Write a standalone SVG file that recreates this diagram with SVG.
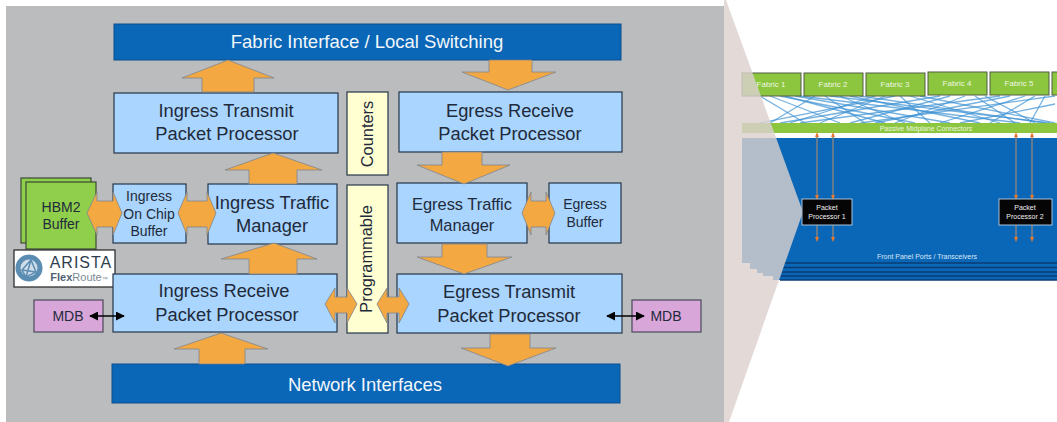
<svg xmlns="http://www.w3.org/2000/svg" width="1057" height="422" viewBox="0 0 1057 422">
<defs>
<style>
text{font-family:"Liberation Sans",Arial,sans-serif;fill:#1f2a3a;text-anchor:middle}
.bar{fill:#0a66b6;stroke:#0a4f8f;stroke-width:1}
.bar-t{fill:#f2f7fb;font-size:18.500px}
.box{fill:#a9d5ff;stroke:#26364a;stroke-width:1.2}
.prog{fill:#ffffd2;stroke:#26364a;stroke-width:1.2}
.mem{fill:#8fcf4c;stroke:#3c4a34;stroke-width:1.2}
.mdb{fill:#d8a6d8;stroke:#4a4a5a;stroke-width:1.2}
.t18{font-size:18.300px}.t16{font-size:16.400px}.t14{font-size:14px}
.ba{fill:#f4a842;stroke:#7d8790;stroke-width:.8}
.fab{fill:#8cc63f;stroke:#4f5a45;stroke-width:1}
.ft{fill:#eef6e0;font-size:8px}
.mesh line{stroke:#3d92d4;stroke-width:1.300;opacity:.7}
.ol line{stroke:#7a7f86;stroke-width:1.6}
.ol path{fill:#e87a30}
.pp{fill:#050505;stroke:#a9c3dc;stroke-width:1}
.pt{fill:#f0f0f0;font-size:7px}
.lay{fill:#0a66b6}
.lin{stroke:#0b3d73;stroke-width:1.3}
</style>
<marker id="dbl" viewBox="0 0 10 10" refX="9" refY="5" markerWidth="9" markerHeight="9" markerUnits="userSpaceOnUse" orient="auto-start-reverse"><path d="M0 0L10 5L0 10Z" fill="#000"/></marker>
</defs>
<rect width="1057" height="422" fill="#fff"/>

<g id="blade">
<g class="mesh">
<line x1="760" y1="96" x2="805" y2="123"/><line x1="770" y1="96" x2="840" y2="123"/><line x1="785" y1="96" x2="885" y2="123"/><line x1="795" y1="96" x2="950" y2="123"/><line x1="800" y1="96" x2="1020" y2="123"/>
<line x1="815" y1="96" x2="770" y2="123"/><line x1="825" y1="96" x2="865" y2="123"/><line x1="840" y1="96" x2="905" y2="123"/><line x1="850" y1="96" x2="980" y2="123"/><line x1="860" y1="96" x2="1045" y2="123"/>
<line x1="875" y1="96" x2="790" y2="123"/><line x1="885" y1="96" x2="820" y2="123"/><line x1="900" y1="96" x2="930" y2="123"/><line x1="910" y1="96" x2="1000" y2="123"/><line x1="920" y1="96" x2="1055" y2="123"/>
<line x1="940" y1="96" x2="780" y2="123"/><line x1="950" y1="96" x2="850" y2="123"/><line x1="965" y1="96" x2="895" y2="123"/><line x1="975" y1="96" x2="1015" y2="123"/><line x1="985" y1="96" x2="1035" y2="123"/>
<line x1="1000" y1="96" x2="800" y2="123"/><line x1="1010" y1="96" x2="875" y2="123"/><line x1="1025" y1="96" x2="940" y2="123"/><line x1="1035" y1="96" x2="990" y2="123"/><line x1="1045" y1="96" x2="1030" y2="123"/>
<line x1="1055" y1="96" x2="860" y2="123"/><line x1="1055" y1="104" x2="960" y2="123"/><line x1="780" y1="96" x2="915" y2="123"/><line x1="830" y1="96" x2="1050" y2="123"/><line x1="895" y1="96" x2="760" y2="123"/>
</g>
<g id="fabric-1"><rect class="fab" x="742" y="73" width="59" height="23"/><text class="ft" x="771" y="87">Fabric 1</text></g>
<g id="fabric-2"><rect class="fab" x="804" y="73" width="59" height="23"/><text class="ft" x="833" y="87">Fabric 2</text></g>
<g id="fabric-3"><rect class="fab" x="866" y="73" width="59" height="23"/><text class="ft" x="895" y="87">Fabric 3</text></g>
<g id="fabric-4"><rect class="fab" x="928" y="72" width="59" height="23"/><text class="ft" x="957" y="86">Fabric 4</text></g>
<g id="fabric-5"><rect class="fab" x="990" y="72" width="59" height="23"/><text class="ft" x="1019" y="86">Fabric 5</text></g>
<rect class="fab" x="1052" y="72" width="8" height="23"/>
<g id="midplane"><rect x="742" y="123" width="315" height="10" fill="#8cc63f"/><text x="926" y="131" style="fill:#eef6e0;font-size:7px">Passive Midplane Connectors</text></g>
<g id="card">
<rect class="lay" x="773" y="275" width="284" height="5"/>
<rect class="lay" x="763" y="272" width="294" height="4"/>
<rect class="lay" x="757" y="268" width="300" height="5"/>
<rect class="lay" x="750" y="263" width="307" height="6"/>
<rect class="lay" x="742" y="138" width="315" height="125"/>
<path class="lin" d="M784 263H1057M783 267.500H1057M782 272H1057M781 276H1057M780 280H1057"/>
<text x="927" y="259" style="fill:#d9e9f8;font-size:7px">Front Panel Ports / Transceivers</text>
</g>
<g class="ol">
<line x1="817" y1="134" x2="817" y2="240"/><line x1="833" y1="134" x2="833" y2="240"/><line x1="1016" y1="134" x2="1016" y2="240"/><line x1="1032" y1="134" x2="1032" y2="240"/>
<path d="M817 132l-2 5h4zM833 132l-2 5h4zM1016 132l-2 5h4zM1032 132l-2 5h4zM817 200l-2-5h4zM833 200l-2-5h4zM1016 200l-2-5h4zM1032 200l-2-5h4zM817 242l-2-5h4zM833 242l-2-5h4zM1016 242l-2-5h4zM1032 242l-2-5h4z"/>
</g>
<path id="wedge" d="M726 0L803 212L729 422H724V0Z" fill="#ddd2cf" fill-opacity=".81"/>
<g id="pp-1"><rect class="pp" x="802" y="199" width="50" height="26"/><text class="pt" x="827" y="210">Packet</text><text class="pt" x="827" y="219">Processor 1</text></g>
<g id="pp-2"><rect class="pp" x="999" y="199" width="53" height="26"/><text class="pt" x="1025" y="210">Packet</text><text class="pt" x="1025" y="219">Processor 2</text></g>
</g>

<rect id="panel" x="6" y="6" width="718" height="416" fill="#bbbcbe"/>

<g id="fabric-interface"><rect class="bar" x="114" y="24" width="507" height="36"/><text class="bar-t" x="367" y="48">Fabric Interface / Local Switching</text></g>
<g id="ingress-transmit"><rect class="box" x="114" y="93" width="224" height="60"/><text class="t18" x="226" y="117">Ingress Transmit</text><text class="t18" x="227" y="140">Packet Processor</text></g>
<g id="egress-receive"><rect class="box" x="399" y="92" width="223" height="60"/><text class="t18" x="510" y="117">Egress Receive</text><text class="t18" x="510" y="140">Packet Processor</text></g>
<g id="counters"><rect class="prog" x="347" y="92" width="41" height="83"/><text class="t16" transform="translate(373 134) rotate(-90)">Counters</text></g>
<g id="programmable"><rect class="prog" x="347" y="185" width="41" height="148"/><text class="t16" transform="translate(372 259) rotate(-90)">Programmable</text></g>
<g id="hbm2"><rect class="mem" x="21" y="178" width="70" height="65"/><rect class="mem" x="26" y="182" width="70" height="67"/><text class="t14" x="61" y="212">HBM2</text><text class="t14" x="61" y="229">Buffer</text></g>
<g id="ingress-buffer"><rect class="box" x="113" y="184" width="73" height="59"/><text class="t14" x="149" y="201">Ingress</text><text class="t14" x="149" y="219">On Chip</text><text class="t14" x="149" y="236">Buffer</text></g>
<g id="ingress-tm"><rect class="box" x="208" y="184" width="129" height="60"/><text class="t18" x="272" y="209">Ingress Traffic</text><text class="t18" x="272" y="232">Manager</text></g>
<g id="egress-tm"><rect class="box" x="397" y="183" width="130" height="60"/><text class="t16" x="462" y="210">Egress Traffic</text><text class="t16" x="462" y="231">Manager</text></g>
<g id="egress-buffer"><rect class="box" x="549" y="183" width="72" height="60"/><text class="t14" x="585" y="209">Egress</text><text class="t14" x="585" y="227">Buffer</text></g>
<g id="arista"><rect x="14" y="250" width="101" height="37" fill="#fff" stroke="#222" stroke-width="1.2"/>
<circle cx="29" cy="268" r="11" fill="#cfdde8" stroke="#5b8db3" stroke-width="5"/>
<path d="M22 270L31 260L36 272L26 277ZM31 260L26 277M22 270L36 272" fill="none" stroke="#5b8db3" stroke-width="1.5"/>
<text x="81" y="268" style="font-size:16px;fill:#2f3e4e;letter-spacing:1px">ARISTA</text>
<text x="79" y="281" style="font-size:11px;fill:#7b8794"><tspan style="font-weight:bold;fill:#4f6273">Flex</tspan>Route<tspan style="font-size:6px">™</tspan></text></g>
<g id="ingress-receive"><rect class="box" x="113" y="274" width="224" height="58"/><text class="t18" x="224" y="297">Ingress Receive</text><text class="t18" x="227" y="321">Packet Processor</text></g>
<g id="egress-transmit"><rect class="box" x="397" y="274" width="225" height="59"/><text class="t18" x="509" y="298">Egress Transmit</text><text class="t18" x="509" y="322">Packet Processor</text></g>
<g id="mdb-left"><rect class="mdb" x="34" y="300" width="69" height="32"/><text class="t14" x="68" y="321">MDB</text></g>
<g id="mdb-right"><rect class="mdb" x="632" y="300" width="69" height="32"/><text class="t14" x="666" y="321">MDB</text></g>
<g id="network-interfaces"><rect class="bar" x="112" y="364" width="508" height="39"/><text class="bar-t" x="365" y="391">Network Interfaces</text></g>

<g id="connectors">
<path class="ba" d="M228 60L274 78H254V92H202V78H182Z"/>
<path class="ba" d="M489 60H532V72H556L508 90L462 72H489Z"/>
<path class="ba" d="M273 153L322 170H297V184H249V170H225Z"/>
<path class="ba" d="M442 152H482V165H510L464 184L417 165H442Z"/>
<path class="ba" d="M274 243L317 259H297V274H249V259H221Z"/>
<path class="ba" d="M442 244H487V257H512L464 274L417 257H442Z"/>
<path class="ba" d="M221 333L268 349H245V364H199V349H174Z"/>
<path class="ba" d="M490 334H530V348H556L508 366L461 348H490Z"/>
<path class="ba" d="M87 213L97 192V201H113V192L122 213L113 235V227H97V235Z"/>
<path class="ba" d="M178 213L187 192V201H207V192L216 213L207 235V227H187V235Z"/>
<path class="ba" d="M522 213L531 192V201H546V192L555 213L546 235V227H531V235Z"/>
<path class="ba" d="M325 304L335 288V297H347V288L357 304L347 323V313H335V323Z"/>
<path class="ba" d="M377 304L387 288V297H399V288L409 304L399 323V313H387V323Z"/>
<line x1="90" y1="316" x2="124" y2="316" stroke="#000" stroke-width="1.5" marker-start="url(#dbl)" marker-end="url(#dbl)"/>
<line x1="607" y1="316" x2="644" y2="316" stroke="#000" stroke-width="1.5" marker-start="url(#dbl)" marker-end="url(#dbl)"/>
</g>
</svg>
